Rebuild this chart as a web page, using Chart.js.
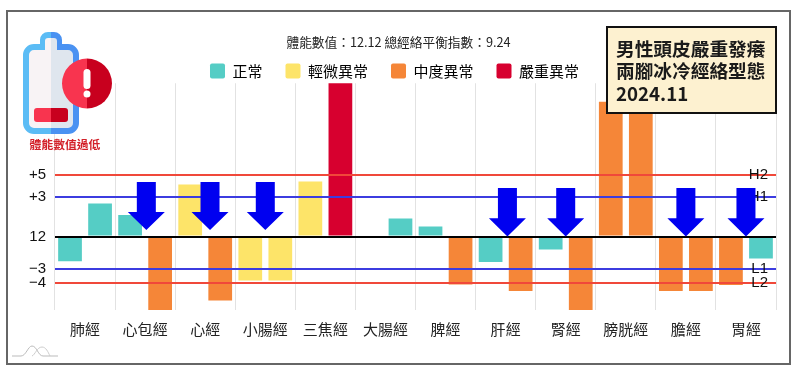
<!DOCTYPE html>
<html><head><meta charset="utf-8">
<style>
html,body{margin:0;padding:0;background:#fff;width:800px;height:373px;overflow:hidden}
#wrap{position:relative;width:800px;height:373px}
canvas{position:absolute;left:0;top:0}
#frame{position:absolute;left:6px;top:10px;width:781px;height:351px;border:2px solid #666;pointer-events:none}
#note{position:absolute;left:606px;top:26px;width:165px;height:84px;border:2px solid #111;background:#fdf1d0;box-sizing:content-box;
 font:bold 18.7px "Noto Sans CJK TC","Liberation Sans",sans-serif;color:#1a1a1a;padding:0 0 0 2px}
#note div{position:absolute;left:8px;white-space:nowrap;line-height:22px}
#low{position:absolute;left:25px;top:135px;width:80px;text-align:center;font:bold 11.8px "Noto Sans CJK TC",sans-serif;color:#d3222a}
svg{position:absolute;left:0;top:0}
</style>
<script src="https://cdn.jsdelivr.net/npm/chart.js@4"></script>
</head><body><div id="wrap">
<canvas id="c" width="800" height="373"></canvas>
<svg width="800" height="373" viewBox="0 0 800 373">
 <path d="M51 32 h-3 a8 8 0 0 0 -8 8 v4 h-6 a11 11 0 0 0 -11 11 v68 a11 11 0 0 0 11 11 h17 z" fill="#5bbcf5"/>
 <path d="M51 32 h3 a8 8 0 0 1 8 8 v4 h6 a11 11 0 0 1 11 11 v68 a11 11 0 0 1 -11 11 h-17 z" fill="#4a92f2"/>
 <path d="M51 38 h-3 a3 3 0 0 0 -3 3 v9 h-11 a5 5 0 0 0 -5 5 v68 a5 5 0 0 0 5 5 h17 z" fill="#f8f3f5"/>
 <path d="M51 38 h3 a3 3 0 0 1 3 3 v9 h11 a5 5 0 0 1 5 5 v68 a5 5 0 0 1 -5 5 h-17 z" fill="#dfe6ee"/>
 <path d="M51 108 h-14 a3 3 0 0 0 -3 3 v8 a3 3 0 0 0 3 3 h14 z" fill="#f8344f"/>
 <path d="M51 108 h14 a3 3 0 0 1 3 3 v8 a3 3 0 0 1 -3 3 h-14 z" fill="#c8001e"/>
 <path d="M87 58.500 a25 25 0 0 0 0 50 z" fill="#f8344f"/>
 <path d="M87 58.500 a25 25 0 0 1 0 50 z" fill="#c8001e"/>
 <rect x="83.500" y="69" width="7" height="20" rx="3.500" fill="#fff"/>
 <circle cx="87" cy="94" r="3.500" fill="#fff"/>
 <path d="M12 356 h9 c5 0 7 -10 11 -10 c5 0 6 10 11 10 h15" fill="none" stroke="#bbb" stroke-width="1"/>
 <path d="M32 356 c3 -1 5 -9 10 -9 c4 0 6 5 8 9" fill="none" stroke="#ccc" stroke-width="1"/>
</svg>
<div id="low">體能數值過低</div>
<div id="note"><div style="top:9px">男性頭皮嚴重發癢</div><div style="top:31px">兩腳冰冷經絡型態</div><div style="top:54px">2024.11</div></div>
<div id="frame"></div>
</div>
<script>
const categories=['肺經','心包經','心經','小腸經','三焦經','大腸經','脾經','肝經','腎經','膀胱經','膽經','胃經'];
const firstValues=[-2.29,1.99,4.8,-4.06,5.08,0,0.92,-2.35,-1.2,12.45,-5.03,-4.48];
const secondValues=[3.05,-6.79,-5.91,-4.06,15,1.66,-4.43,-5.03,-6.79,15,-5.03,-2.03];
const TEAL='#55cdc5',YEL='#fde469',ORG='#f58638',RED='#d7002f';
const firstColors=[TEAL,TEAL,YEL,YEL,YEL,TEAL,TEAL,TEAL,TEAL,ORG,ORG,ORG];
const secondColors=[TEAL,ORG,ORG,YEL,RED,TEAL,ORG,ORG,ORG,ORG,ORG,TEAL];
const legendNames=['正常','輕微異常','中度異常','嚴重異常'];
const legendColors=[TEAL,YEL,ORG,RED];
const tickValues=[5.68,3.69,0,-3,-4.27];
const tickLabels=['+5','+3','12','−3','−4'];
const tickColors=['#f0483a','#3c3ce0','#000000','#3c3ce0','#f0483a'];
const tickWidths=[2,2,2,2,2];
const lineNames=['H2','H1','L1','L2'];
const lineValues=[5.68,3.69,-3,-4.27];
const arrowCats=[1,2,3,7,8,10,11];
const arrowShift=[0.02,0.08,0,0.03,0,0,0];
const arrowTop=[5.03,5.03,5.03,4.48,4.48,4.48,4.48];
const arrowTip=[0.6,0.6,0.6,0,0,0,0];
const arrowNeck=[2.26,2.26,2.26,1.68,1.68,1.68,1.68];
const FONT='"Noto Sans CJK TC","Liberation Sans",sans-serif';

const overlay={id:'overlay',
 afterLayout(ch){
  const lg=ch.legend;
  lg.left=0;lg.right=789;lg.top=40.500;lg.bottom=100;
  const tb=ch.titleBlock;
  tb.left=0;tb.right=797;tb.top=35;tb.bottom=52;
 },
 afterDraw(ch){
  const c=ch.ctx,x=ch.scales.x,y=ch.scales.y;
  c.save();
  c.font='15px "Liberation Sans",sans-serif';c.fillStyle='#111';c.textAlign='right';c.textBaseline='middle';
  lineNames.forEach((n,i)=>c.fillText(n,768,y.getPixelForValue(lineValues[i])));
  c.fillStyle='#0000f0';
  arrowCats.forEach((k,i)=>{
   const px=x.getPixelForValue(k)+arrowShift[i]*(x.getPixelForValue(1)-x.getPixelForValue(0));
   const t=y.getPixelForValue(arrowTop[i]),n=y.getPixelForValue(arrowNeck[i]),b=y.getPixelForValue(arrowTip[i]);
   c.beginPath();c.moveTo(px-9.5,t);c.lineTo(px+9.5,t);c.lineTo(px+9.5,n);c.lineTo(px+18.500,n);c.lineTo(px,b);
   c.lineTo(px-18.500,n);c.lineTo(px-9.5,n);c.closePath();c.fill();
  });
  c.restore();
 }};

new Chart(document.getElementById('c'),{
 type:'bar',
 data:{labels:categories,datasets:[
  {label:'A',data:firstValues,backgroundColor:firstColors,barPercentage:0.79,categoryPercentage:1},
  {label:'B',data:secondValues,backgroundColor:secondColors,barPercentage:0.79,categoryPercentage:1}]},
 plugins:[overlay],
 options:{responsive:false,animation:false,
  layout:{padding:{top:35,right:24,left:0,bottom:0}},
  plugins:{
   tooltip:{enabled:false},
   title:{display:true,text:'體能數值：12.12 總經絡平衡指數：9.24',color:'#222',font:{size:12.7,family:FONT,weight:'normal'},padding:{top:0,bottom:-15}},
   legend:{position:'top',onClick:null,labels:{boxWidth:15,boxHeight:15,padding:23,useBorderRadius:true,borderRadius:2,color:'#222',font:{size:15,family:FONT},
    generateLabels:()=>legendNames.map((t,i)=>({text:t,fillStyle:legendColors[i],strokeStyle:legendColors[i],lineWidth:0,hidden:false,datasetIndex:0,borderRadius:2}))}}
  },
  scales:{
   x:{grid:{color:'#e2e2e2',lineWidth:1,drawTicks:false},border:{display:false},
      ticks:{color:'#222',font:{size:15,family:FONT},padding:10,maxRotation:0,autoSkip:false},
      afterFit(s){s.height=63}},
   y:{min:-6.79,max:14.17,
      afterBuildTicks(s){s.ticks=tickValues.map(v=>({value:v}))},
      afterFit(s){s.width=55},
      grid:{z:1,drawTicks:false,color:c=>tickColors[tickValues.indexOf(c.tick.value)]||'transparent',lineWidth:c=>tickWidths[tickValues.indexOf(c.tick.value)]||0},
      border:{display:false},
      ticks:{color:'#111',font:{size:15,family:'"Liberation Sans",sans-serif'},padding:9,autoSkip:false,callback:v=>tickLabels[tickValues.indexOf(v)]}}
  }
 }
});
</script>
</body></html>
